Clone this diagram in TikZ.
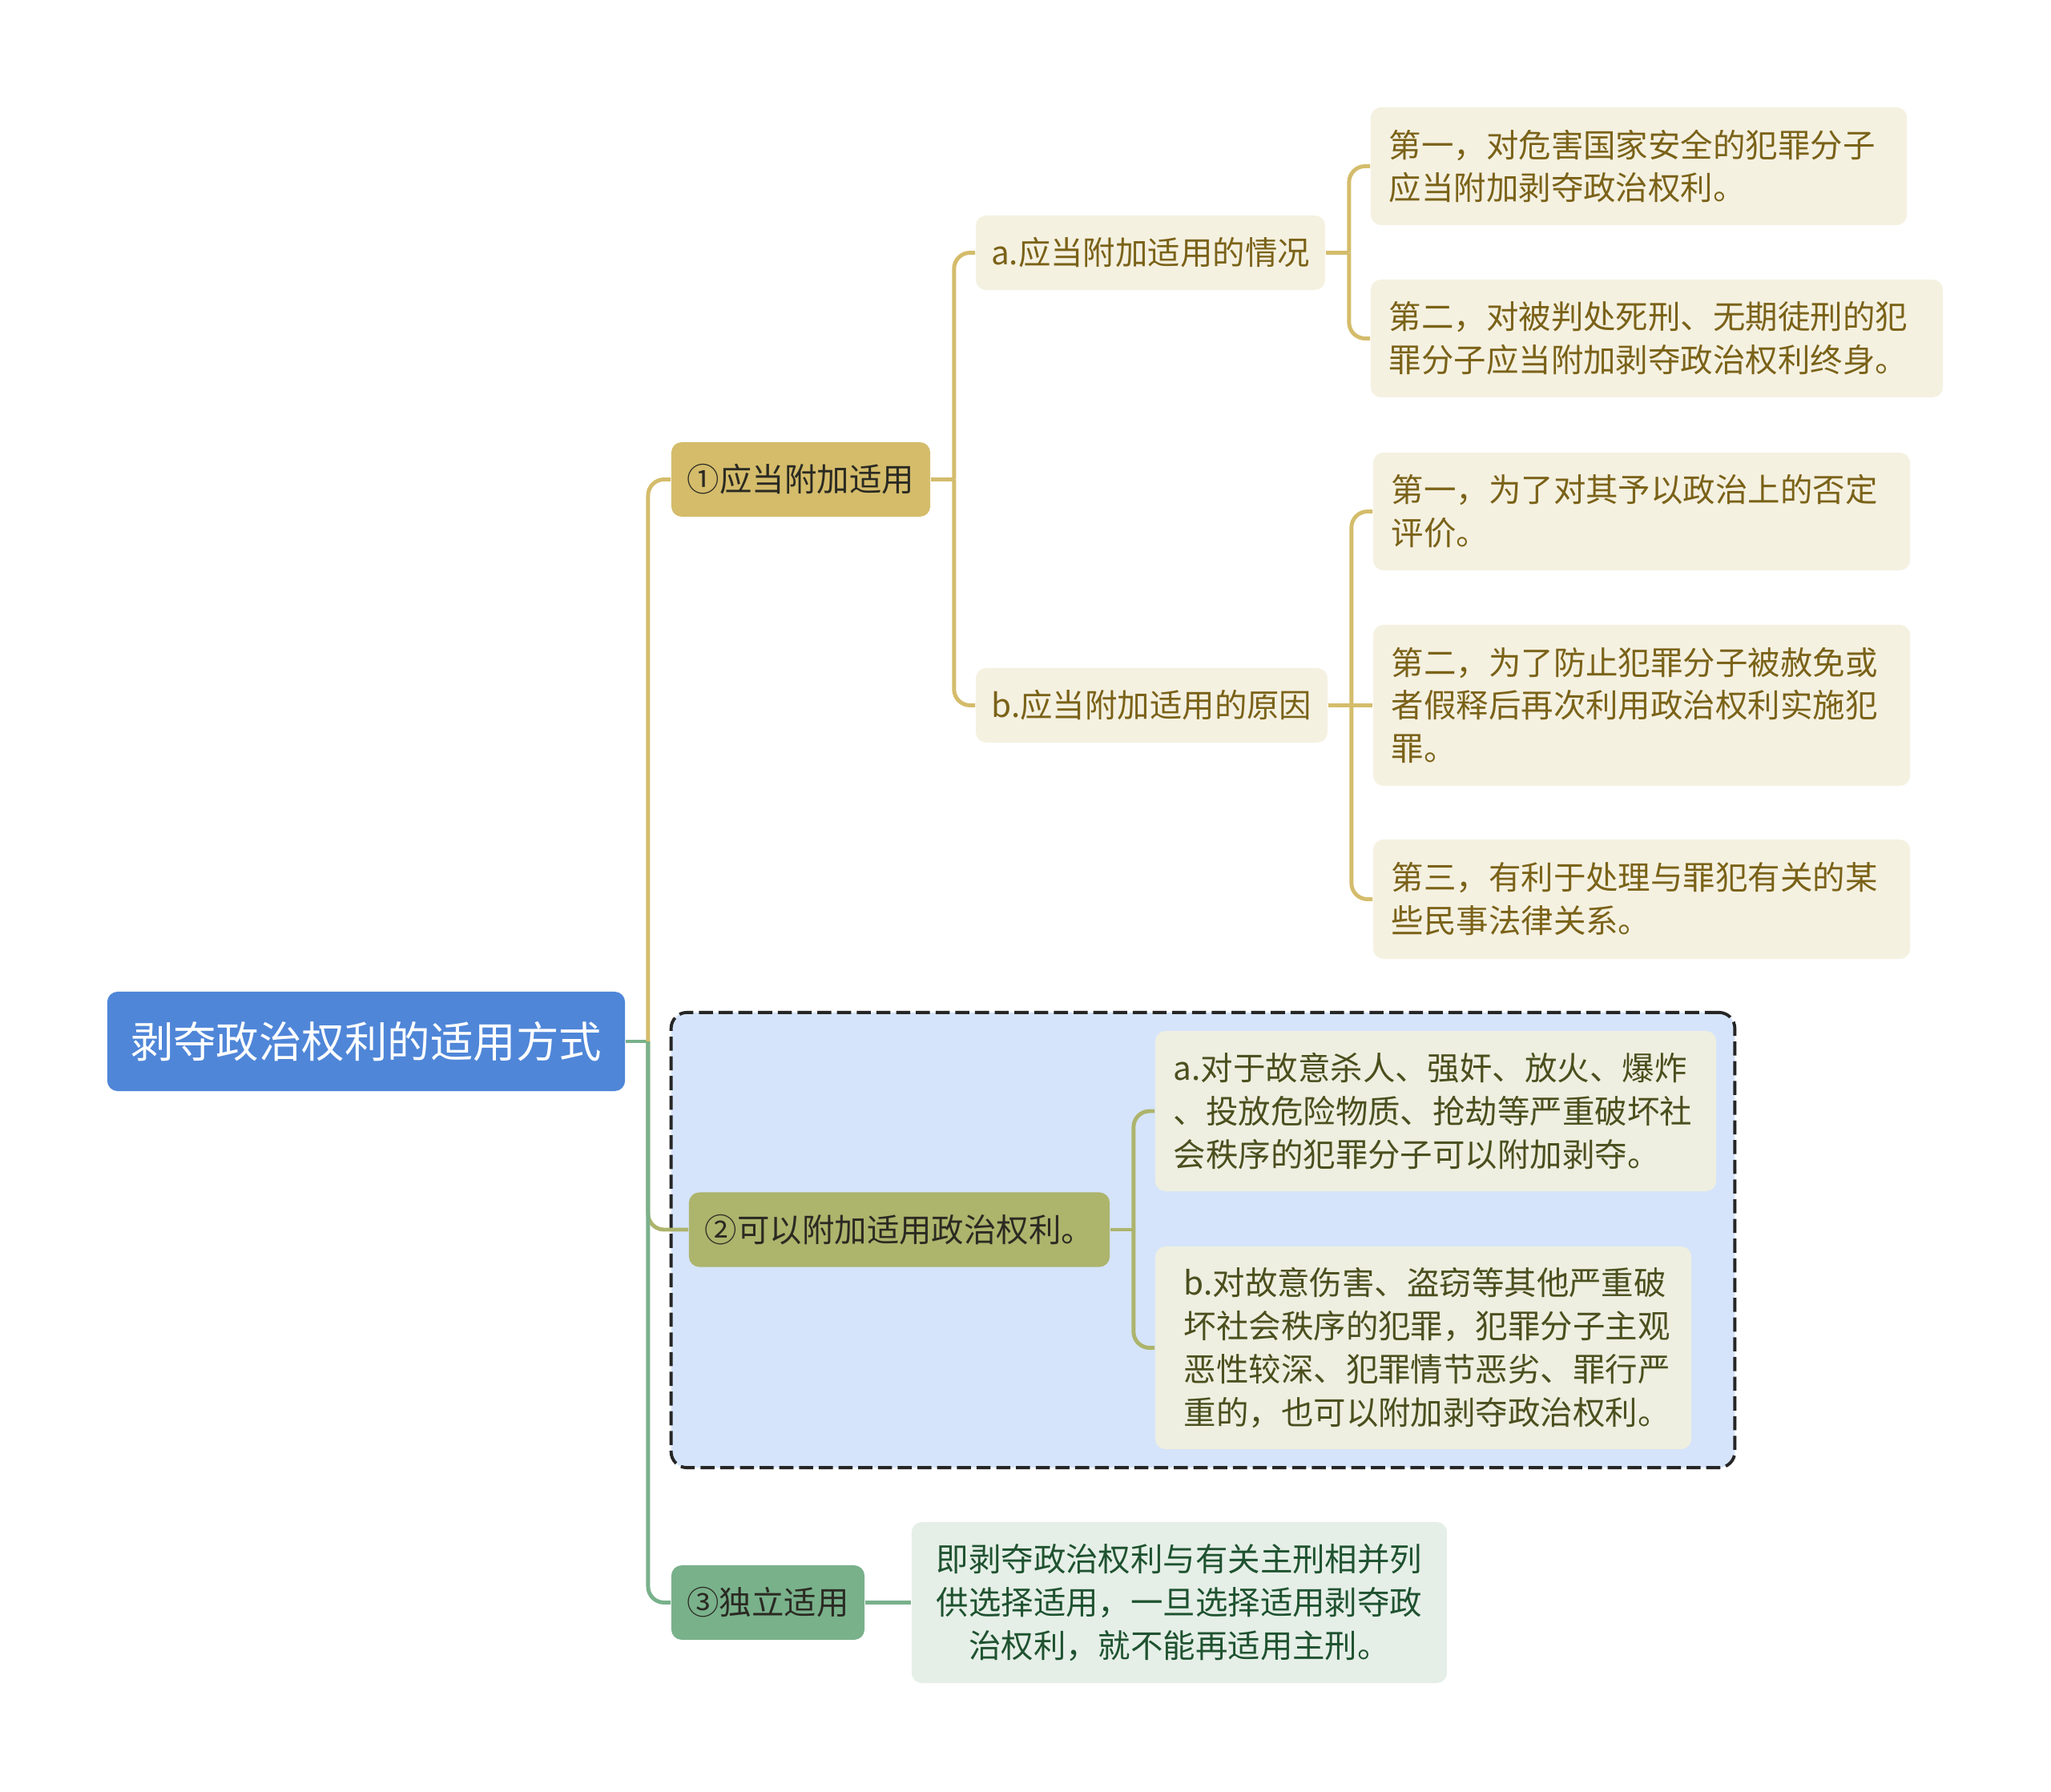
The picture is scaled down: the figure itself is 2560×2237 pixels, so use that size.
\documentclass[tikz,border=0pt]{standalone}
\usepackage{fontspec}
\setmainfont{Noto Sans CJK SC}
\usepackage{tikz}
\usetikzlibrary{positioning,backgrounds}
\definecolor{rootblue}{HTML}{4F86D8}
\definecolor{goldfill}{HTML}{D4BC6B}
\definecolor{olivefill}{HTML}{ADB46C}
\definecolor{greenfill}{HTML}{79B18B}
\definecolor{creamfill}{HTML}{F5F1E1}
\definecolor{palefill}{HTML}{EEEFE0}
\definecolor{mintfill}{HTML}{E5EFE7}
\definecolor{groupfill}{HTML}{D5E4FB}
\definecolor{browntext}{HTML}{7A6218}
\definecolor{olivetext}{HTML}{4A4F1E}
\definecolor{greentext}{HTML}{1F5230}
\definecolor{darktext}{HTML}{2A2A22}
\tikzset{
  box/.style={rounded corners=1.3mm, inner sep=0pt, align=left,
    font=\fontsize{11.5}{15.3}\selectfont},
  rootbox/.style={box, fill=rootblue, text=white,
    font=\fontsize{15.2}{18}\selectfont},
  topic/.style={box, text=darktext, minimum height=0.93cm},
  goldtopic/.style={topic, fill=goldfill},
  olivetopic/.style={topic, fill=olivefill},
  greentopic/.style={topic, fill=greenfill},
  sub/.style={box, fill=creamfill, text=browntext, minimum height=0.93cm},
  leaf/.style={box, fill=creamfill, text=browntext},
  oleaf/.style={box, fill=palefill, text=olivetext},
  gleaf/.style={box, fill=mintfill, text=greentext, align=center},
  groupframe/.style={draw=black!85, fill=groupfill, line width=1.1pt,
    dash pattern=on 5pt off 2pt, rounded corners=2mm, inner sep=0pt},
  link/.style={line width=1.4pt},
  glink/.style={link, draw=goldfill},
  olink/.style={link, draw=olivefill},
  nlink/.style={link, draw=greenfill}
}

\begin{document}
\begin{tikzpicture}[x=0.01cm, y=-0.01cm]
  \useasboundingbox (0,0) rectangle (2560,2237);

  % group frame behind branch 2
  \node[groupframe, minimum width=13.27cm, minimum height=5.68cm] (grp) at (1501.5,1548) {};

  % root and main topics
  \node[rootbox, minimum width=6.46cm, minimum height=1.24cm] (root) at (457,1300) {剥夺政治权利的适用方式};
  \node[goldtopic, minimum width=3.23cm] (fujia) at (999.5,598.5) {①应当附加适用};
  \node[olivetopic, minimum width=5.25cm] (keyi) at (1122.5,1535) {②可以附加适用政治权利。};
  \node[greentopic, minimum width=2.41cm] (duli) at (958.5,2000.5) {③独立适用};

  % branch 1
  \node[sub, minimum width=4.36cm] (qingkuang) at (1436,315.5) {a.应当附加适用的情况};
  \node[sub, minimum width=4.39cm] (yuanyin) at (1437.5,880.5) {b.应当附加适用的原因};
  \node[leaf, minimum width=6.69cm, text width=6.23cm, minimum height=1.47cm] (qk1) at (2045.5,207.5)
    {第一，对危害国家安全的犯罪分子\\应当附加剥夺政治权利。};
  \node[leaf, minimum width=7.14cm, text width=6.68cm, minimum height=1.47cm] (qk2) at (2068,422.5)
    {第二，对被判处死刑、无期徒刑的犯\\罪分子应当附加剥夺政治权利终身。};
  \node[leaf, minimum width=6.70cm, text width=6.24cm, minimum height=1.47cm] (yy1) at (2049,638.5)
    {第一，为了对其予以政治上的否定\\评价。};
  \node[leaf, minimum width=6.70cm, text width=6.24cm, minimum height=2.01cm] (yy2) at (2049,880.5)
    {第二，为了防止犯罪分子被赦免或\\者假释后再次利用政治权利实施犯\\罪。};
  \node[leaf, minimum width=6.70cm, text width=6.24cm, minimum height=1.49cm] (yy3) at (2049,1122.5)
    {第三，有利于处理与罪犯有关的某\\些民事法律关系。};

  % branch 2
  \node[oleaf, minimum width=7.00cm, text width=6.54cm, minimum height=2.00cm] (baoli) at (1792,1387)
    {a.对于故意杀人、强奸、放火、爆炸\\、投放危险物质、抢劫等严重破坏社\\会秩序的犯罪分子可以附加剥夺。};
  \node[oleaf, minimum width=6.69cm, text width=5.97cm, minimum height=2.53cm] (qita) at (1776.5,1682.5)
    {b.对故意伤害、盗窃等其他严重破\\坏社会秩序的犯罪，犯罪分子主观\\恶性较深、犯罪情节恶劣、罪行严\\重的，也可以附加剥夺政治权利。};

  % branch 3
  \node[gleaf, minimum width=6.68cm, minimum height=2.01cm] (bingli) at (1472,2000.5)
    {即剥夺政治权利与有关主刑相并列\\供选择适用，一旦选择适用剥夺政\\治权利，就不能再适用主刑。};

  % connectors from root
  \draw[nlink] (root.east) -- ++(28,0) coordinate (rj);
  \draw[glink, rounded corners=2mm] (rj) |- (fujia.west);
  \draw[olink, rounded corners=2mm] (rj) |- (keyi.west);
  \draw[nlink, rounded corners=2mm] (rj) |- (duli.west);

  % connectors of branch 1
  \draw[glink] (fujia.east) -- ++(29,0) coordinate (fj);
  \draw[glink, rounded corners=2mm] (fj) |- (qingkuang.west);
  \draw[glink, rounded corners=2mm] (fj) |- (yuanyin.west);
  \draw[glink] (qingkuang.east) -- ++(29,0) coordinate (qj);
  \draw[glink, rounded corners=2mm] (qj) |- (qk1.west);
  \draw[glink, rounded corners=2mm] (qj) |- (qk2.west);
  \draw[glink] (yuanyin.east) -- ++(29,0) coordinate (yj);
  \draw[glink, rounded corners=2mm] (yj) |- (yy1.west);
  \draw[glink] (yj) -- (yy2.west);
  \draw[glink, rounded corners=2mm] (yj) |- (yy3.west);

  % connectors of branch 2
  \draw[olink] (keyi.east) -- ++(29,0) coordinate (kj);
  \draw[olink, rounded corners=2mm] (kj) |- (baoli.west);
  \draw[olink, rounded corners=2mm] (kj) |- (qita.west);

  % connector of branch 3
  \draw[nlink] (duli.east) -- (bingli.west);
\end{tikzpicture}
\end{document}
